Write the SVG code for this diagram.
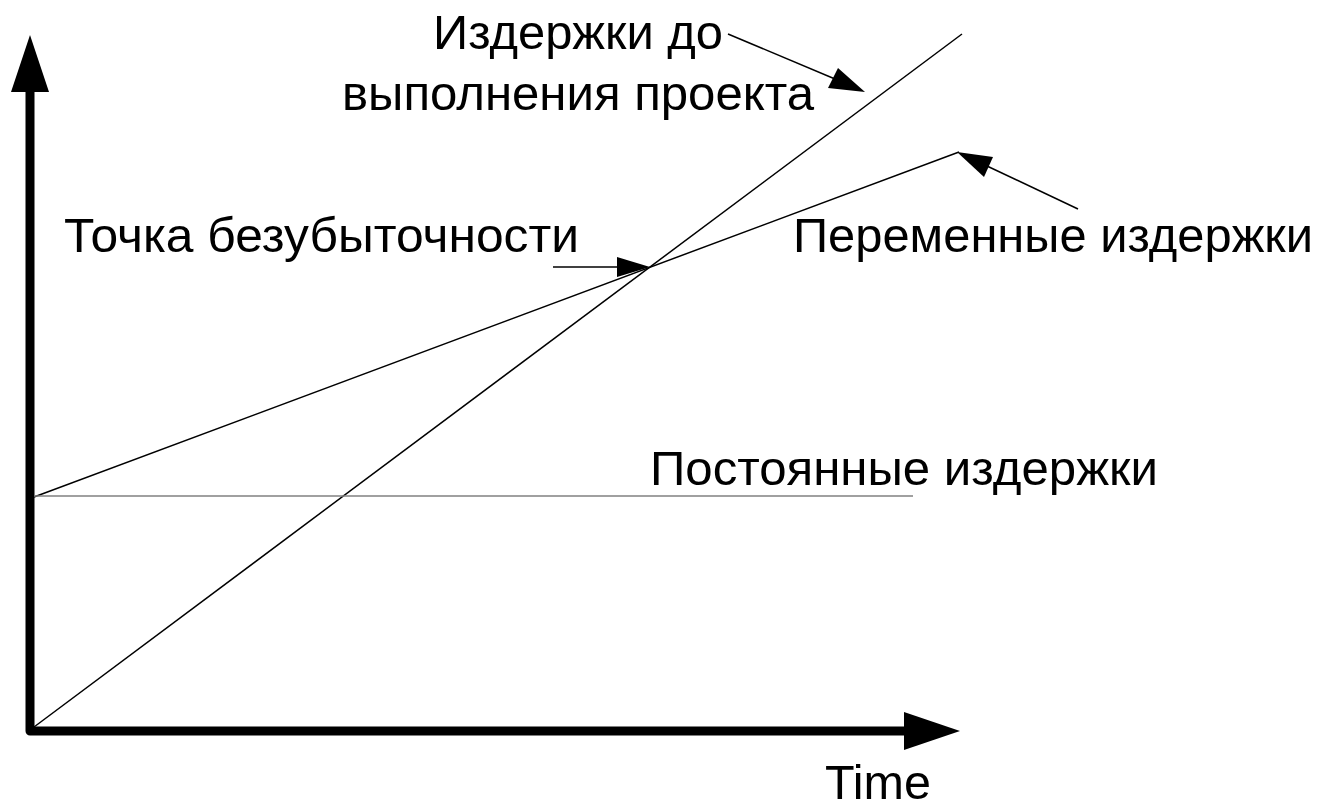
<svg xmlns="http://www.w3.org/2000/svg" width="1322" height="808" viewBox="0 0 1322 808">
<style>
.t{font-family:"Liberation Sans",Arial,sans-serif;font-size:48px;fill:#000}
.ln{stroke:#000;stroke-width:1.5;fill:none}
.ax{stroke:#000;stroke-width:9;fill:none;stroke-linejoin:round;stroke-linecap:butt}
.ah{fill:#000;stroke:none}
</style>
<rect width="1322" height="808" fill="#fff"/>
<g id="axes">
<path class="ax" d="M30,92 L30,731 L905,731"/>
<polygon class="ah" points="30,35 11,92 49,92"/>
<polygon class="ah" points="960,731 904,712 904,750"/>
</g>
<g id="lines">
<line id="project-cost" class="ln" x1="34" y1="727" x2="962" y2="34"/>
<line id="variable-cost" class="ln" x1="34" y1="497" x2="959" y2="152"/>
<line id="fixed-cost" x1="34" y1="496" x2="913" y2="496" stroke="#808080" stroke-width="1.5"/>
</g>
<g id="connectors">
<line class="ln" x1="553" y1="267" x2="618" y2="267"/>
<polygon class="ah" points="650,267 617,257 617,277"/>
<line class="ln" x1="728" y1="34" x2="835" y2="79"/>
<polygon class="ah" points="865,92 828,88 838,68"/>
<line class="ln" x1="1078" y1="209" x2="987" y2="166"/>
<polygon class="ah" points="957,152 993,157 984,177"/>
</g>
<g id="label-project">
<text class="t" x="578" y="49" text-anchor="middle" textLength="290" lengthAdjust="spacingAndGlyphs">Издержки до</text>
<text class="t" x="578" y="110" text-anchor="middle" textLength="472" lengthAdjust="spacingAndGlyphs">выполнения проекта</text>
</g>
<g id="label-breakeven"><text class="t" x="64" y="252" textLength="515" lengthAdjust="spacingAndGlyphs">Точка безубыточности</text></g>
<g id="label-variable"><text class="t" x="793" y="252" textLength="520" lengthAdjust="spacingAndGlyphs">Переменные издержки</text></g>
<g id="label-fixed"><text class="t" x="650" y="485" textLength="508" lengthAdjust="spacingAndGlyphs">Постоянные издержки</text></g>
<g id="label-time"><text class="t" x="825" y="799" textLength="106" lengthAdjust="spacingAndGlyphs">Time</text></g>
</svg>
